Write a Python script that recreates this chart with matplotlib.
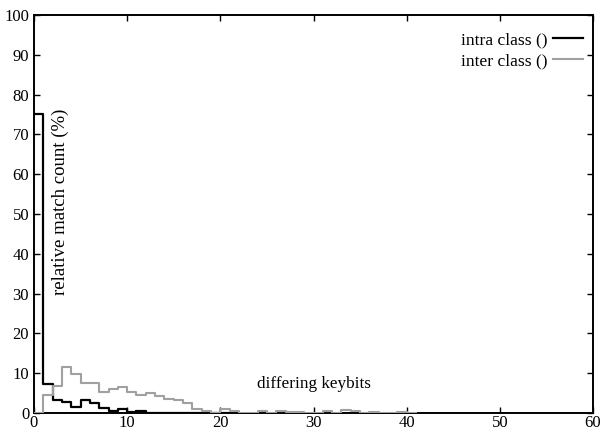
import numpy as np
import matplotlib.pyplot as plt

plt.rcParams['font.family'] = ['Liberation Serif', 'DejaVu Serif']

# histogram values (%) per differing-keybit bin
intra_class = [75.2, 7.4, 3.3, 2.7, 1.5, 3.3, 2.4, 1.3, 0.6, 0.9, 0.2, 0.4,
               0, 0, 0, 0, 0, 0, 0, 0, 0]
inter_class = [0, 4.5, 6.8, 11.5, 9.7, 7.5, 7.5, 5.3, 6.1, 6.5, 5.3, 4.6,
               5.1, 4.3, 3.6, 3.2, 2.4, 1.1, 0.4, 0.1, 0.9, 0.5, 0.1, 0.1,
               0.4, 0.1, 0.4, 0.2, 0.3, 0.1, 0.1, 0.4, 0.1, 0.7, 0.4, 0.1,
               0.3, 0.1, 0.1, 0.2, 0]

x_ticks = [0, 10, 20, 30, 40, 50, 60]
y_ticks = [0, 10, 20, 30, 40, 50, 60, 70, 80, 90, 100]

fig = plt.figure(figsize=(6.03, 4.30), dpi=100)
ax = fig.add_axes([34 / 603, 17 / 430, 559 / 603, 398 / 430])

def steps(vals):
    x = np.arange(len(vals) + 1)
    y = list(vals) + [vals[-1]]
    return x, y

xi, yi = steps(intra_class)
xe, ye = steps(inter_class)
ax.step(xi, yi, where='post', color='black', lw=1.6, label='intra class ()', zorder=3)
ax.step(xe, ye, where='post', color='#a0a0a0', lw=1.5, label='inter class ()', zorder=4)

ax.set_xlim(0, 60)
ax.set_ylim(0, 100)
ax.set_xticks(x_ticks)
ax.set_yticks(y_ticks)
ax.tick_params(direction='in', length=4, width=1, top=True, right=True,
               labelsize=12)
ax.tick_params(axis='x', pad=1.5)
ax.tick_params(axis='y', pad=3.5)
for s in ax.spines.values():
    s.set_linewidth(1.4)

# gnuplot-style labels drawn inside the plot area
ax.text(0.0475, 0.53, 'relative match count (%)', rotation=90,
        ha='center', va='center', fontsize=13.5, transform=ax.transAxes)
ax.text(0.501, 0.073, 'differing keybits', ha='center', va='center',
        fontsize=12.3, transform=ax.transAxes)

ax.legend(loc='upper right', bbox_to_anchor=(0.982, 0.958), frameon=False,
          markerfirst=False, fontsize=12.6, handlelength=1.7,
          handletextpad=0.35, labelspacing=0.3, borderaxespad=0,
          borderpad=0)

fig.savefig('out.png', dpi=100)
